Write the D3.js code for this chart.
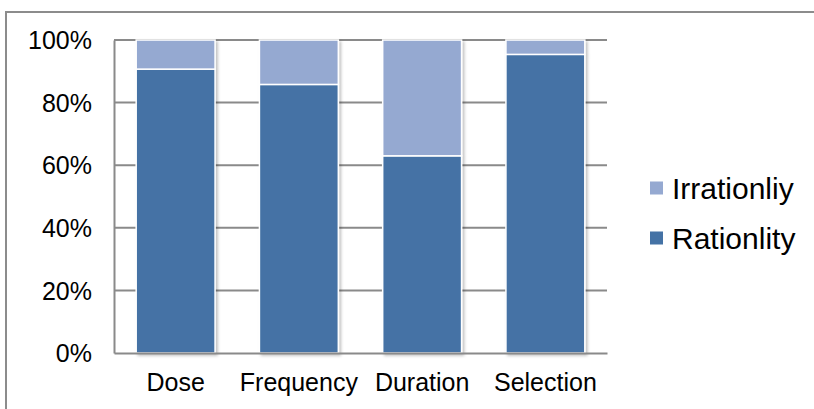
<!DOCTYPE html>
<html>
<head>
<meta charset="utf-8">
<script src="https://cdn.jsdelivr.net/npm/d3@7"></script>
<style>
  body { margin: 0; background: #fff; }
  svg { display: block; font-family: "Liberation Sans", Arial, sans-serif; }
</style>
</head>
<body>
<svg></svg>
<script>
const categories = ["Dose", "Frequency", "Duration", "Selection"];
const rational = [0.907, 0.858, 0.630, 0.954];
const irrational = rational.map(v => 1 - v);
const seriesNames = ["Irrationliy", "Rationlity"];
const yTicks = [0, 0.2, 0.4, 0.6, 0.8, 1.0];

const W = 814, H = 409;
const margin = { top: 40, right: 207, bottom: 56, left: 114 };
const width = W - margin.left - margin.right;
const height = H - margin.top - margin.bottom;

const darkBlue = "#4472a5";
const lightBlue = "#95a9d1";
const gridGrey = "#8a8a8a";

const svg = d3.select("svg").attr("width", W).attr("height", H);

// outer frame
svg.append("rect")
  .attr("x", 6).attr("y", 12)
  .attr("width", W + 20).attr("height", H + 20)
  .attr("fill", "none").attr("stroke", "#8c8c8c").attr("stroke-width", 2);

const defs = svg.append("defs");
const f = defs.append("filter").attr("id", "shadow")
  .attr("x", "-10%").attr("y", "-10%").attr("width", "130%").attr("height", "130%");
f.append("feDropShadow").attr("dx", 2).attr("dy", 2).attr("stdDeviation", 1.5)
  .attr("flood-color", "#000").attr("flood-opacity", 0.25);

const g = svg.append("g").attr("transform", `translate(${margin.left},${margin.top})`);

const xScale = d3.scaleBand().domain(categories).range([0, width]).paddingInner(0.36).paddingOuter(0.18);
const yScale = d3.scaleLinear().domain([0, 1]).range([height, 0]);

// gridlines
g.append("g").selectAll("line").data(yTicks.filter(t => t > 0)).enter().append("line")
  .attr("x1", 0).attr("x2", width)
  .attr("y1", d => yScale(d)).attr("y2", d => yScale(d))
  .attr("stroke", gridGrey).attr("stroke-width", 2);

// y axis
const yAxis = d3.axisLeft(yScale).tickValues(yTicks).tickFormat(d3.format(".0%")).tickSize(0).tickPadding(22);
const yg = g.append("g").call(yAxis);
yg.select(".domain").attr("stroke", gridGrey).attr("stroke-width", 2);
yg.selectAll("text").attr("font-size", 25).attr("fill", "#000").attr("font-family", "Liberation Sans, Arial, sans-serif").attr("dy", "0.35em");

// stacked bars
const rows = categories.map((c, i) => ({ cat: c, Rationlity: rational[i], Irrationliy: irrational[i] }));
const stack = d3.stack().keys(["Rationlity", "Irrationliy"])(rows);
const colors = { Rationlity: darkBlue, Irrationliy: lightBlue };

const barG = g.append("g").attr("filter", "url(#shadow)");
stack.forEach(s => {
  barG.selectAll(null).data(s).enter().append("rect")
    .attr("x", d => xScale(d.data.cat))
    .attr("y", d => yScale(d[1]))
    .attr("width", xScale.bandwidth())
    .attr("height", d => yScale(d[0]) - yScale(d[1]))
    .attr("fill", colors[s.key])
    .attr("stroke", "#fff").attr("stroke-width", 1.5);
});

// x axis
const xAxis = d3.axisBottom(xScale).tickSize(0).tickPadding(20);
const xg = g.append("g").attr("transform", `translate(0,${height})`).call(xAxis);
xg.select(".domain").attr("stroke", gridGrey).attr("stroke-width", 2);
xg.selectAll("text").attr("font-size", 25).attr("fill", "#000").attr("font-family", "Liberation Sans, Arial, sans-serif");

// legend
const legend = svg.append("g").attr("transform", "translate(650,188)");
seriesNames.forEach((name, i) => {
  const row = legend.append("g").attr("transform", `translate(0,${i * 50})`);
  row.append("rect").attr("x", 0).attr("y", -6.5).attr("width", 13).attr("height", 13)
    .attr("fill", name === "Rationlity" ? darkBlue : lightBlue);
  row.append("text").attr("x", 22).attr("y", 0).attr("dy", "0.35em")
    .attr("font-size", 30).attr("fill", "#000").text(name);
});
</script>
</body>
</html>
